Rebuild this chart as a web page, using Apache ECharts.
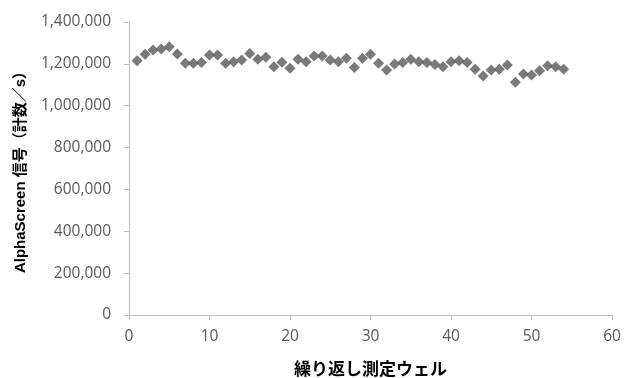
<!DOCTYPE html>
<html><head><meta charset="utf-8">
<script src="https://cdn.jsdelivr.net/npm/echarts@6/dist/echarts.min.js"></script>
<style>html,body{margin:0;padding:0;background:#fff}#c{width:633px;height:378px}</style>
</head><body><div id="c"></div>
<script>
const wells = [1,2,3,4,5,6,7,8,9,10,11,12,13,14,15,16,17,18,19,20,21,22,23,24,25,26,27,28,29,30,31,32,33,34,35,36,37,38,39,40,41,42,43,44,45,46,47,48,49,50,51,52,53,54];
const signal = [1215000,1246000,1266000,1271000,1282000,1247000,1203000,1203000,1207000,1242000,
1242000,1203000,1210000,1218000,1250000,1222000,1231000,1186000,1208000,1179000,
1222000,1210000,1238000,1238000,1218000,1210000,1227000,1182000,1227000,1246000,
1203000,1171000,1199000,1206000,1222000,1210000,1206000,1197000,1186000,1210000,
1215000,1207000,1174000,1142000,1171000,1174000,1195000,1112000,1151000,1147000,
1167000,1191000,1186000,1174000];
const xTitle = '繰り返し測定ウェル';
const yTitle = 'AlphaScreen 信号（計数／s）';

const chart = echarts.init(document.getElementById('c'), null, {renderer:'canvas'});
const lineStyle = {color:'#bfbfbf', width:1};
const labelFont = {color:'#595959', fontSize:15.5, fontFamily:'"Open Sans", sans-serif'};
chart.setOption({
  animation:false,
  backgroundColor:'#fff',
  grid:{left:129, right:21, top:22, bottom:63, containLabel:false, outerBoundsMode:'none'},
  xAxis:{
    type:'value', min:0, max:60, interval:10,
    axisLine:{show:true, lineStyle:lineStyle},
    axisTick:{show:true, length:5, lineStyle:lineStyle},
    splitLine:{show:false},
    axisLabel:Object.assign({margin:14}, labelFont),
    name:xTitle, nameLocation:'middle', nameGap:45,
    nameTextStyle:{color:'#000', fontSize:17, fontWeight:'bold', fontFamily:'"Noto Sans CJK JP", sans-serif'}
  },
  yAxis:{
    type:'value', min:0, max:1400000, interval:200000,
    axisLine:{show:true, lineStyle:lineStyle},
    axisTick:{show:true, length:5, lineStyle:lineStyle},
    splitLine:{show:false},
    axisLabel:Object.assign({margin:18, formatter:v=>v.toLocaleString('en-US')}, labelFont),
    name:yTitle, nameLocation:'middle', nameGap:101, nameRotate:90,
    nameTextStyle:{color:'#000', fontSize:15, fontWeight:'bold', fontFamily:'"Liberation Sans", "Noto Sans CJK JP", sans-serif'}
  },
  series:[{
    type:'scatter',
    symbol:'diamond',
    symbolSize:11,
    itemStyle:{color:'#595959'},
    data:wells.map((w,i)=>[w, signal[i]])
  }]
});
</script></body></html>
